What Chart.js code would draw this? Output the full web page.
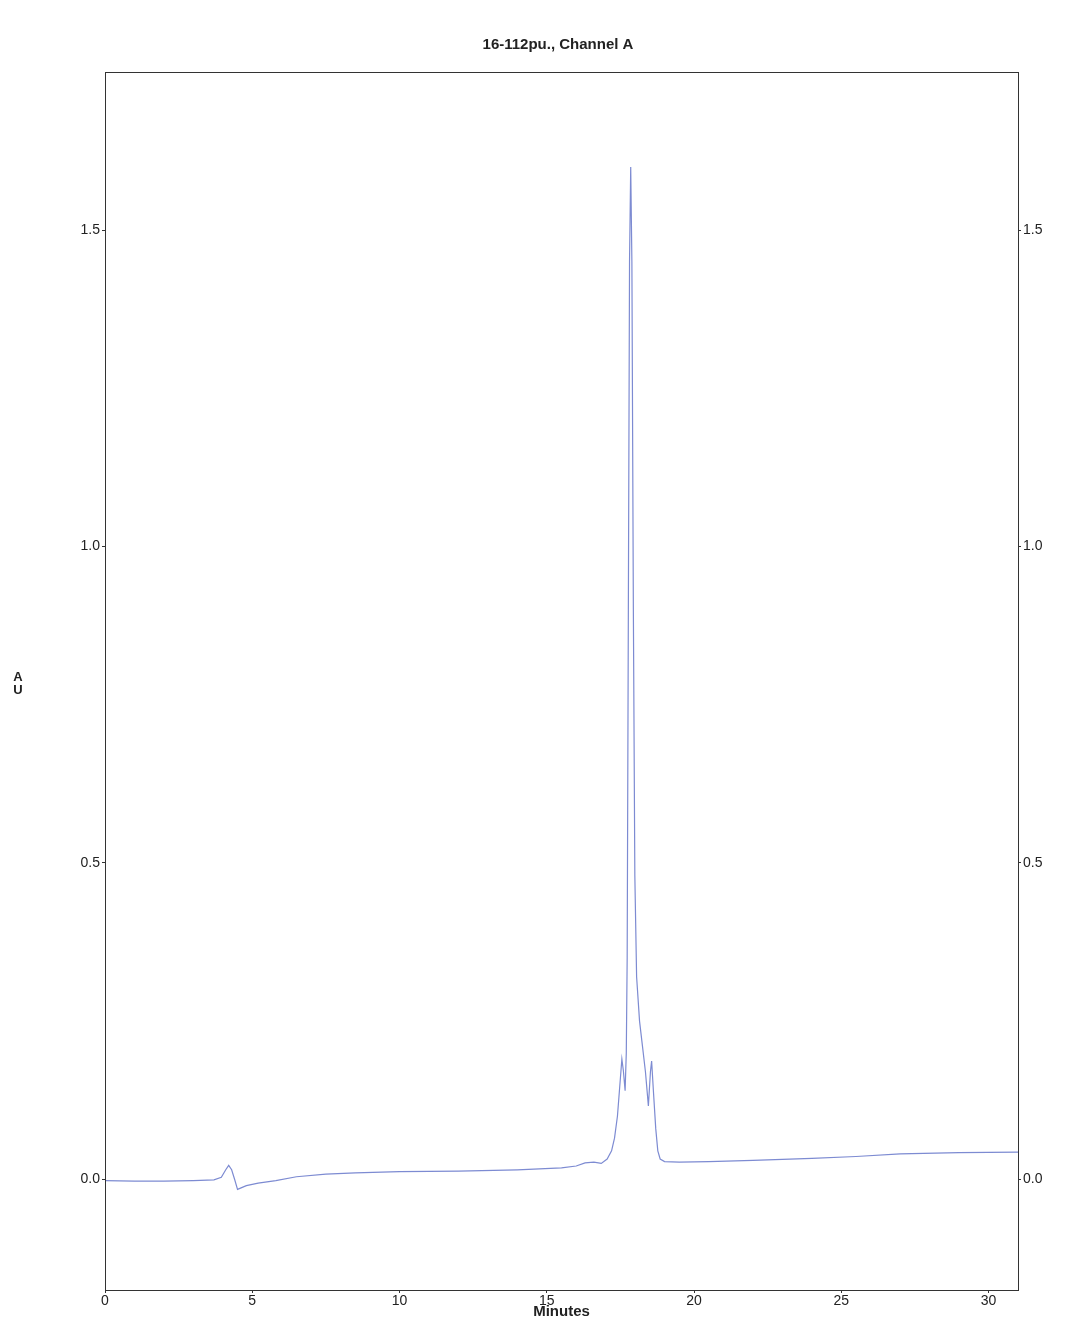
<!DOCTYPE html>
<html>
<head>
<meta charset="utf-8">
<script src="https://cdn.jsdelivr.net/npm/chart.js@4.4.0/dist/chart.umd.min.js"></script>
<style>
  html, body { margin: 0; padding: 0; background: #ffffff; }
  #wrap { width: 1088px; height: 1321px; position: relative; }
</style>
</head>
<body>
<div id="wrap"><canvas id="c" width="1088" height="1321"></canvas></div>
<script>
// Data (Minutes vs AU)
const minutes = [0, 1, 2, 3, 3.7, 3.95, 4.1, 4.2, 4.3, 4.4, 4.5, 4.6, 4.8, 5.2, 5.8, 6.5, 7.5, 8.5, 10, 12, 14, 15.5, 16.0, 16.3, 16.6, 16.85, 17.05, 17.2, 17.3, 17.4, 17.5, 17.55, 17.6, 17.66, 17.7, 17.73, 17.77, 17.81, 17.85, 17.89, 17.94, 17.99, 18.05, 18.15, 18.25, 18.35, 18.45, 18.52, 18.56, 18.62, 18.7, 18.77, 18.85, 19.0, 19.5, 20.5, 22, 24, 25.5, 27, 29, 31];
const au = [-0.002, -0.003, -0.003, -0.002, -0.001, 0.003, 0.015, 0.022, 0.015, 0.0, -0.016, -0.014, -0.010, -0.006, -0.002, 0.004, 0.008, 0.010, 0.012, 0.013, 0.015, 0.018, 0.021, 0.026, 0.027, 0.025, 0.032, 0.045, 0.065, 0.1, 0.16, 0.19, 0.172, 0.14, 0.2, 0.35, 0.9, 1.45, 1.6, 1.45, 0.9, 0.48, 0.32, 0.25, 0.21, 0.17, 0.116, 0.17, 0.187, 0.14, 0.08, 0.045, 0.032, 0.028, 0.027, 0.028, 0.030, 0.033, 0.036, 0.040, 0.042, 0.043];
const xTicks = [0, 5, 10, 15, 20, 25, 30];
const yTicks = [0.0, 0.5, 1.0, 1.5];
const titleText = '16-112pu., Channel A';
const xTitle = 'Minutes';
const yTitleLetters = ['A', 'U'];

const points = minutes.map((t, i) => ({ x: t, y: au[i] }));
const axisColor = '#333333';
const FAM = 'Liberation Sans, Arial, sans-serif';
const tickFont = { family: FAM, size: 14 };

const frame = {
  id: 'frame',
  afterDraw(chart) {
    const { ctx, chartArea: a } = chart;
    ctx.save();
    ctx.strokeStyle = axisColor;
    ctx.lineWidth = 1;
    ctx.strokeRect(a.left + 0.5, a.top + 0.5, a.right - a.left, a.bottom - a.top);
    ctx.fillStyle = '#222';
    ctx.textAlign = 'center';
    ctx.textBaseline = 'middle';
    ctx.font = 'bold 15px ' + FAM;
    ctx.fillText(titleText, 558, 45);
    ctx.font = 'bold 13px ' + FAM;
    ctx.fillText(yTitleLetters[0], 18, 677);
    ctx.fillText(yTitleLetters[1], 18, 690);
    ctx.restore();
  }
};

new Chart(document.getElementById('c'), {
  type: 'line',
  data: {
    datasets: [{
      data: points,
      borderColor: '#7d8bd2',
      borderWidth: 1.2,
      pointRadius: 0,
      tension: 0,
      fill: false
    }]
  },
  options: {
    responsive: false,
    animation: false,
    layout: { padding: { top: 72 } },
    plugins: {
      legend: { display: false },
      tooltip: { enabled: false },
      title: { display: false }
    },
    scales: {
      x: {
        type: 'linear',
        min: 0,
        max: 31,
        afterBuildTicks: s => { s.ticks = xTicks.map(v => ({ value: v })); },
        afterFit: s => { s.height = 31; },
        ticks: { color: '#222', font: tickFont, padding: 0, maxRotation: 0, callback: v => String(v) },
        grid: { display: true, drawOnChartArea: false, drawTicks: true, tickLength: 3, color: axisColor },
        border: { display: true, color: axisColor },
        title: {
          display: true, text: xTitle, color: '#222',
          font: { family: FAM, size: 15, weight: 'bold' },
          padding: { top: 0, bottom: 0 }
        }
      },
      y: {
        type: 'linear',
        position: 'left',
        min: -0.175,
        max: 1.75,
        afterBuildTicks: s => { s.ticks = yTicks.map(v => ({ value: v })); },
        afterFit: s => { s.width = 105; },
        ticks: { color: '#222', font: tickFont, padding: 2, callback: v => v.toFixed(1) },
        grid: { display: true, drawOnChartArea: false, drawTicks: true, tickLength: 3, color: axisColor },
        border: { display: true, color: axisColor }
      },
      y2: {
        type: 'linear',
        position: 'right',
        min: -0.175,
        max: 1.75,
        afterBuildTicks: s => { s.ticks = yTicks.map(v => ({ value: v })); },
        afterFit: s => { s.width = 70; },
        ticks: { color: '#222', font: tickFont, padding: 2, callback: v => v.toFixed(1) },
        grid: { display: true, drawOnChartArea: false, drawTicks: true, tickLength: 3, color: axisColor },
        border: { display: true, color: axisColor }
      }
    }
  },
  plugins: [frame]
});
</script>
</body>
</html>
